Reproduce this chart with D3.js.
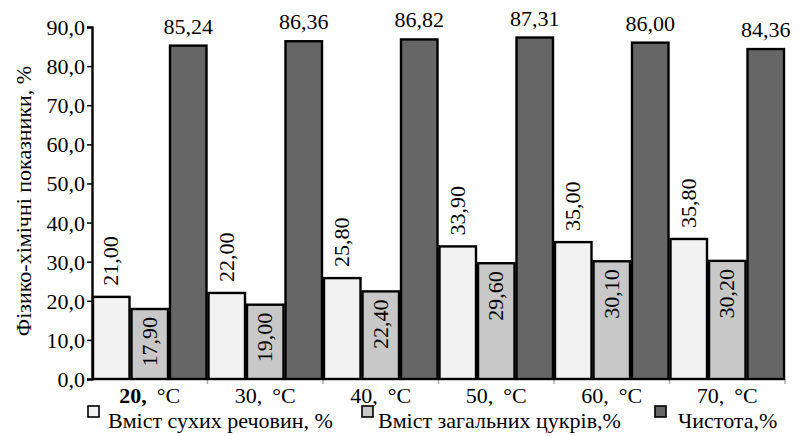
<!DOCTYPE html>
<html><head><meta charset="utf-8">
<script src="https://cdn.jsdelivr.net/npm/d3@7"></script>
</head><body style="margin:0">
<svg id="c" width="801" height="436"></svg>
<script>
const categories = ["20", "30", "40", "50", "60", "70"];
const seriesNames = ["Вміст сухих речовин, %", "Вміст загальних цукрів,%", "Чистота,%"];
const dryMatter = [21.00, 22.00, 25.80, 33.90, 35.00, 35.80];
const sugars = [17.90, 19.00, 22.40, 29.60, 30.10, 30.20];
const purity = [85.24, 86.36, 86.82, 87.31, 86.00, 84.36];
const yTicks = [0, 10, 20, 30, 40, 50, 60, 70, 80, 90];
const colors = ["#f2f2f2", "#c8c8c8", "#666666"];
const FONT = "'Liberation Serif', Tinos, 'Times New Roman', Times, serif";
const FS = 22;

const svg = d3.select("#c").style("font-family", FONT);
const x = d3.scaleBand().domain(categories).range([92, 785]).padding(0);
const xs = d3.scaleBand().domain([0, 1, 2]).range([0, x.bandwidth()]).padding(0);
const y = d3.scaleLinear().domain([0, 90]).range([379, 27]);
const fmt = v => v.toFixed(2).replace(".", ",");
const fmt1 = v => v.toFixed(1).replace(".", ",");
const series = [dryMatter, sugars, purity];

function txt(sel) {
  return sel.append("text").style("font-family", FONT).style("font-size", FS + "px").attr("fill", "#000");
}

// x axis line + ticks
svg.append("line").attr("x1", 92).attr("x2", 785).attr("y1", y(0)).attr("y2", y(0))
  .attr("stroke", "#999").attr("stroke-width", 1.5);
categories.forEach(c => {
  const xx = x(c) + x.bandwidth();
  svg.append("line").attr("x1", xx).attr("x2", xx).attr("y1", y(0)).attr("y2", y(0) + 5)
    .attr("stroke", "#aaa").attr("stroke-width", 1.5);
});

// bars
series.forEach((vals, s) => {
  svg.append("g").selectAll("rect").data(vals).join("rect")
    .attr("x", (d, i) => x(categories[i]) + xs(s) + 1)
    .attr("width", xs.bandwidth() - 2)
    .attr("y", d => y(d))
    .attr("height", d => y(0) - y(d))
    .attr("fill", colors[s]).attr("stroke", "#000").attr("stroke-width", 2.4);
});

// y axis
const yAxis = svg.append("g").attr("transform", "translate(92,0)")
  .call(d3.axisLeft(y).tickValues(yTicks).tickFormat(fmt1).tickSize(5).tickPadding(2));
yAxis.attr("font-family", null).attr("font-size", null).style("font-family", FONT);
yAxis.select(".domain").attr("stroke", "#000").attr("stroke-width", 2.4);
yAxis.selectAll(".tick line").attr("stroke", "#000").attr("stroke-width", 1.5);
yAxis.selectAll(".tick text").style("font-size", FS + "px").style("font-family", FONT)
  .attr("fill", "#000").attr("dy", "0.34em");

// dry matter labels (above bar, rotated)
dryMatter.forEach((v, i) => {
  const cx = x(categories[i]) + xs(0) + xs.bandwidth() / 2;
  txt(svg).attr("transform", `translate(${cx + 7},${y(v) - 11}) rotate(-90)`)
    .attr("text-anchor", "start").text(fmt(v));
});
// sugar labels (inside bar, rotated)
sugars.forEach((v, i) => {
  const cx = x(categories[i]) + xs(1) + xs.bandwidth() / 2;
  txt(svg).attr("transform", `translate(${cx + 7},${y(v) + 8}) rotate(-90)`)
    .attr("text-anchor", "end").text(fmt(v));
});
// purity labels (above bar)
purity.forEach((v, i) => {
  const cx = x(categories[i]) + xs(2) + xs.bandwidth() / 2;
  txt(svg).attr("x", cx).attr("y", y(v) - 12)
    .attr("text-anchor", "middle").text(fmt(v));
});

// x labels
categories.forEach((c, i) => {
  const t = txt(svg).attr("x", x(c) + x.bandwidth() / 2).attr("y", 403)
    .attr("text-anchor", "middle");
  t.append("tspan").attr("font-weight", i === 0 ? "bold" : "normal").text(c + ",");
  t.append("tspan").attr("dx", 10).text("\u00B0C");
});

// y label
txt(svg).attr("transform", "translate(31,201) rotate(-90)")
  .attr("text-anchor", "middle").text("Фізико-хімічні показники, %");

// legend
const legX = [88, 362, 655];
const legTX = [108, 378, 678];
seriesNames.forEach((n, s) => {
  svg.append("rect").attr("x", legX[s]).attr("y", 406).attr("width", 11).attr("height", 11)
    .attr("fill", colors[s]).attr("stroke", "#000").attr("stroke-width", 1.6);
  txt(svg).attr("x", legTX[s]).attr("y", 428).text(n);
});
</script>
</body></html>
